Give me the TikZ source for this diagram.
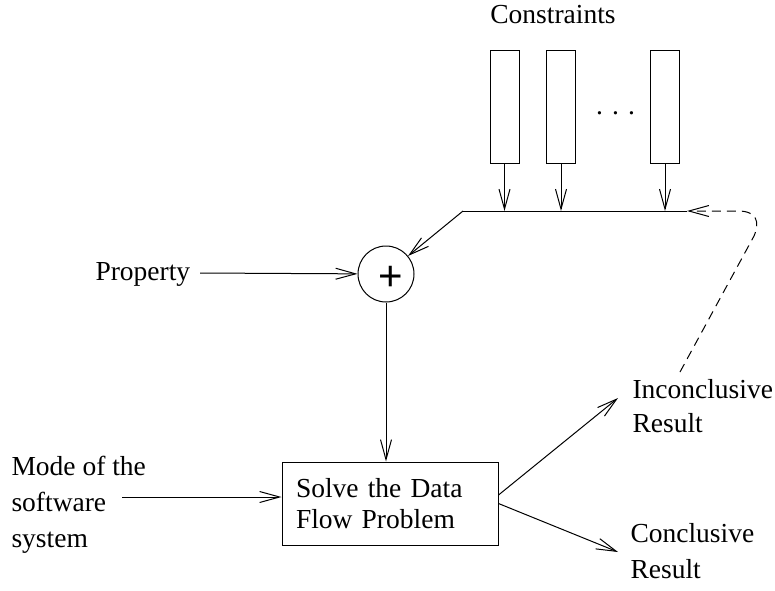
\documentclass[tikz,border=0pt]{standalone}
\usepackage{fontspec}
\setmainfont{Liberation Serif}
\newfontfamily\plusfont{Liberation Sans}
\usetikzlibrary{arrows.meta}
\begin{document}
\begin{tikzpicture}[x=1pt,y=-1pt,line width=1pt,
  arr/.style={-{Straight Barb[length=20pt,width=11pt]}},
  cbox/.style={draw,minimum width=29pt,minimum height=113pt,inner sep=0pt},
  lbl/.style={inner sep=0pt,align=left,anchor=base west},
  fbdash/.style={dash pattern=on 9pt off 6pt}]
\useasboundingbox (0,0) rectangle (775,590);
\node[lbl,anchor=base,font=\fontsize{27.5}{35}\selectfont] (cons) at (553,23) {Constraints};
\node[cbox] (c1) at (504.5,106.5) {};
\node[cbox] (c2) at (561,106.5) {};
\node[cbox] (c3) at (665,106.5) {};
\node[lbl,font=\fontsize{27.5}{35}\selectfont] (dots) at (595.5,114) {. . .};
\coordinate (busL) at (463,211);
\coordinate (busR) at (687,211);
\draw (busL) -- (busR);
\draw[arr] (c1.south) -- (c1.south |- busL);
\draw[arr] (c2.south) -- (c2.south |- busL);
\draw[arr] (c3.south) -- (c3.south |- busL);
\node[circle,draw,minimum size=56pt,inner sep=0pt] (plus) at (386,274) {};
\node[inner sep=0pt,font=\plusfont\fontsize{42}{42}\selectfont] (plussign) at (391,278) {+};
\draw[arr] (busL) -- (plus);
\node[lbl,font=\fontsize{27.5}{35}\selectfont] (prop) at (95,280) {Property};
\coordinate (propOut) at (200,273);
\draw[arr] (propOut) -- (plus);
\node[draw,text width=188pt,align=left,inner xsep=14pt,inner ysep=0pt,minimum height=83pt,
  font=\fontsize{27.5}{31}\selectfont] (solve) at (390,503.5) {Solve the Data\\Flow Problem};
\draw[arr] (plus.south) -- (plus.south |- solve.north);
\node[lbl,font=\fontsize{27.5}{36}\selectfont] (mode) at (11,547) {Mode of the\\software\\system};
\coordinate (modeOut) at (122,497);
\draw[arr] (modeOut) -- (solve.west |- modeOut);
\coordinate (incIn) at (618,398);
\coordinate (conIn) at (618,552);
\draw[arr] ([yshift=8.5pt]solve.east) -- (incIn);
\draw[arr] (solve.east) -- (conIn);
\node[lbl,font=\fontsize{27.5}{34}\selectfont] (inc) at (632,432) {Inconclusive\\Result};
\node[lbl,font=\fontsize{27.5}{36}\selectfont] (con) at (630,578) {Conclusive\\Result};
\coordinate (fbStart) at (680,372);
\draw[fbdash,arr] (fbStart) -- (754,236) .. controls (760,222) and (757,211) .. (738,211) -- (busR);
\end{tikzpicture}
\end{document}
